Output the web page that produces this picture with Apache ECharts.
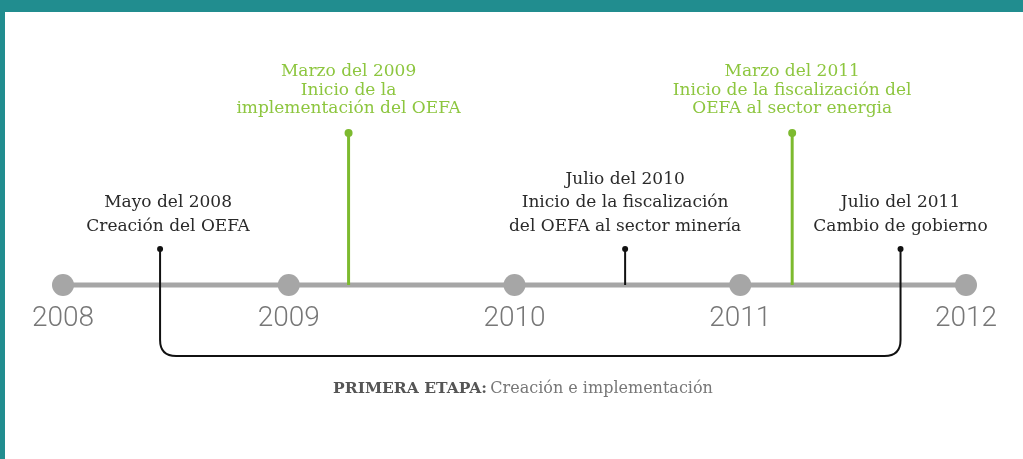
<!DOCTYPE html>
<html>
<head>
<meta charset="utf-8">
<script src="https://cdn.jsdelivr.net/npm/echarts@6/dist/echarts.min.js"></script>
<style>html,body{margin:0;padding:0;background:#fff;}#c{width:1023px;height:459px;}</style>
</head>
<body>
<div id="c"></div>
<script>
// ---- data ----
const years = [2008, 2009, 2010, 2011, 2012];
const eventDates = [2008.43, 2009.265, 2010.49, 2011.23, 2011.71];
const eventLevels = [36, 152, 36, 152, 36];
const eventKinds = ['hito', 'oefa', 'hito', 'oefa', 'hito'];
const eventLabels = [
  'Mayo del 2008\nCreación del OEFA',
  'Marzo del 2009\nInicio de la\nimplementación del OEFA',
  'Julio del 2010\nInicio de la fiscalización\ndel OEFA al sector minería',
  'Marzo del 2011\nInicio de la fiscalización del\nOEFA al sector energia',
  'Julio del 2011\nCambio de gobierno'
];
const stageRange = [2008.43, 2011.71];
const stageLevel = -71;
const stageTitle = 'PRIMERA ETAPA:';
const stageText = 'Creación e implementación';

// ---- styles ----
const SERIF = '"DejaVu Serif", serif';
const kindStyle = {
  hito: { line: '#111', lw: 2, r: 3, text: '#2a2a2a', lh: 23.5, gap: 11 },
  oefa: { line: '#7dba2f', lw: 3, r: 4, text: '#8dc63f', lh: 18.5, gap: 15 }
};
const labelNudge = { 0: 8 };

const chart = echarts.init(document.getElementById('c'));
chart.setOption({
  animation: false,
  grid: { left: 63, right: 57, top: 0, bottom: 0 },
  xAxis: { type: 'value', min: 2008, max: 2012, show: false },
  yAxis: { type: 'value', min: -174, max: 285, show: false },
  graphic: [
    { type: 'rect', shape: { x: 0, y: 0, width: 1023, height: 12 }, style: { fill: '#218d8f' }, z: 100 },
    { type: 'rect', shape: { x: 0, y: 0, width: 5, height: 459 }, style: { fill: '#218d8f' }, z: 100 },
    {
      type: 'text', x: 523, y: 389,
      style: {
        text: '{b|' + stageTitle + '} {n|' + stageText + '}',
        align: 'center', verticalAlign: 'middle',
        rich: {
          b: { fontFamily: SERIF, fontSize: 15.5, fontWeight: 'bold', fill: '#555' },
          n: { fontFamily: SERIF, fontSize: 16, fill: '#777' }
        }
      }
    }
  ],
  series: [
    {
      type: 'line', data: [[years[0], 0], [years[years.length - 1], 0]],
      symbol: 'none', lineStyle: { color: '#a6a6a6', width: 5 }, z: 1, silent: true
    },
    {
      type: 'custom', z: 2, silent: true,
      data: [[stageRange[0], stageRange[1], stageLevel]],
      renderItem: function (params, api) {
        const a = api.coord([api.value(0), 0]);
        const b = api.coord([api.value(1), api.value(2)]);
        const x1 = a[0], y0 = a[1], x2 = b[0], yb = b[1], r = 16;
        const d = 'M' + x1 + ' ' + y0 + ' L' + x1 + ' ' + (yb - r) +
          ' Q' + x1 + ' ' + yb + ' ' + (x1 + r) + ' ' + yb +
          ' L' + (x2 - r) + ' ' + yb +
          ' Q' + x2 + ' ' + yb + ' ' + x2 + ' ' + (yb - r) +
          ' L' + x2 + ' ' + y0;
        return { type: 'path', shape: { pathData: d }, style: { stroke: '#111', lineWidth: 2, fill: null } };
      }
    },
    {
      type: 'custom', z: 3, silent: true,
      data: eventDates.map((d, i) => [d, eventLevels[i], i]),
      renderItem: function (params, api) {
        const i = api.value(2);
        const st = kindStyle[eventKinds[i]];
        const p0 = api.coord([api.value(0), 0]);
        const p1 = api.coord([api.value(0), api.value(1)]);
        return {
          type: 'group',
          children: [
            { type: 'line', shape: { x1: p0[0], y1: p0[1], x2: p1[0], y2: p1[1] }, style: { stroke: st.line, lineWidth: st.lw } },
            { type: 'circle', shape: { cx: p1[0], cy: p1[1], r: st.r }, style: { fill: st.line } },
            {
              type: 'text', x: p1[0] + (labelNudge[i] || 0), y: p1[1] - st.gap,
              style: {
                text: eventLabels[i], align: 'center', verticalAlign: 'bottom',
                fontFamily: SERIF, fontSize: 17, lineHeight: st.lh, fill: st.text
              }
            }
          ]
        };
      }
    },
    {
      type: 'scatter', z: 4, silent: true,
      data: years.map(y => [y, 0]),
      symbolSize: 22, itemStyle: { color: '#a6a6a6', opacity: 1 },
      label: {
        show: true, position: 'bottom', distance: 9,
        formatter: p => String(p.value[0]),
        fontFamily: 'Roboto', fontWeight: 300, fontSize: 28, color: '#777'
      }
    }
  ]
});
</script>
</body>
</html>
